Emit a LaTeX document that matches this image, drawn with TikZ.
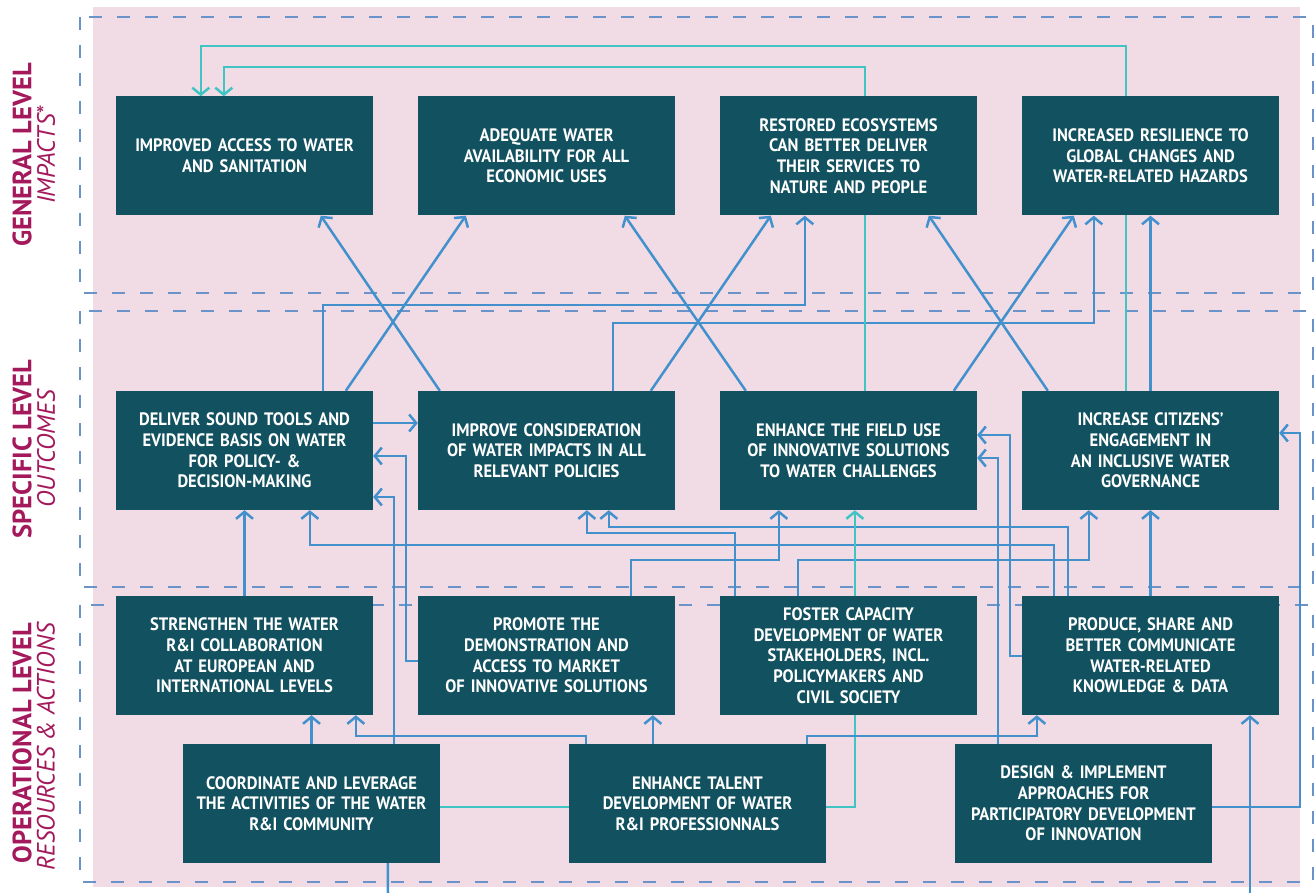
\documentclass[tikz,border=0pt]{standalone}
\usepackage{fontspec}
\setmainfont{PT Sans}
\newfontfamily\goalfont{PT Sans}[FakeStretch=0.92]
\usetikzlibrary{arrows.meta}

\definecolor{goalteal}{HTML}{12515F}
\definecolor{bgpink}{HTML}{F1DCE5}
\definecolor{linkblue}{HTML}{4391CC}
\definecolor{linkteal}{HTML}{40C4C4}
\definecolor{dashblue}{HTML}{6A93C9}
\definecolor{levelred}{HTML}{A3195B}

\pgfdeclarelayer{back}
\pgfdeclarelayer{links}
\pgfsetlayers{back,links,main}

\tikzset{
  goal/.style={fill=goalteal, text=white, minimum width=257pt, minimum height=119pt,
    inner sep=0pt, text width=255pt, align=center,
    font=\goalfont\bfseries\fontsize{18}{20.7}\selectfont},
  link/.style={draw=linkblue, line width=2.5pt, -{Straight Barb[length=7pt,width=17pt]}},
  tlink/.style={link, draw=linkteal},
  band/.style={draw=dashblue, line width=1.4pt, dash pattern=on 13pt off 15pt},
  levelname/.style={rotate=90, text=levelred, font=\bfseries\fontsize{26.5}{30}\selectfont},
  levelsub/.style={rotate=90, text=levelred, font=\itshape\fontsize{25}{28}\selectfont}
}

\begin{document}
\begin{tikzpicture}[x=1pt,y=-1pt]
\useasboundingbox (0,0) rectangle (1316,893);

\begin{pgfonlayer}{back}
\fill[bgpink] (93,7) rectangle (1300,887);
\draw[band] (80,17) rectangle (1313,293);
\draw[band] (80,311) rectangle (1313,587);
\draw[band] (80,605) rectangle (1313,882);
\end{pgfonlayer}

% level labels
\node[levelname] (genlv) at (22,155) {GENERAL LEVEL};
\node[levelsub] (gensub) at (46,155) {IMPACTS*};
\node[levelname] (speclv) at (22,449) {SPECIFIC LEVEL};
\node[levelsub] (specsub) at (46,449) {OUTCOMES};
\node[levelname] (oplv) at (22,743) {OPERATIONAL LEVEL};
\node[levelsub] (opsub) at (46,747) {RESOURCES \& ACTIONS};

% impacts
\node[goal] (b1) at (244.5,156) {IMPROVED ACCESS TO WATER\\AND SANITATION};
\node[goal] (b2) at (546.5,156) {ADEQUATE WATER\\AVAILABILITY FOR ALL\\ECONOMIC USES};
\node[goal] (b3) at (848.5,156) {RESTORED ECOSYSTEMS\\CAN BETTER DELIVER\\THEIR SERVICES TO\\NATURE AND PEOPLE};
\node[goal] (b4) at (1150.5,156) {INCREASED RESILIENCE TO\\GLOBAL CHANGES AND\\WATER-RELATED HAZARDS};

% outcomes
\node[goal] (m1) at (244.5,450.5) {DELIVER SOUND TOOLS AND\\EVIDENCE BASIS ON WATER\\FOR POLICY- \&\\DECISION-MAKING};
\node[goal] (m2) at (546.5,450.5) {IMPROVE CONSIDERATION\\OF WATER IMPACTS IN ALL\\RELEVANT POLICIES};
\node[goal] (m3) at (848.5,450.5) {ENHANCE THE FIELD USE\\OF INNOVATIVE SOLUTIONS\\TO WATER CHALLENGES};
\node[goal] (m4) at (1150.5,450.5) {INCREASE CITIZENS’\\ENGAGEMENT IN\\AN INCLUSIVE WATER\\GOVERNANCE};

% actions
\node[goal] (o1) at (244.5,655.5) {STRENGTHEN THE WATER\\R\&I COLLABORATION\\AT EUROPEAN AND\\INTERNATIONAL LEVELS};
\node[goal] (o2) at (546.5,655.5) {PROMOTE THE\\DEMONSTRATION AND\\ACCESS TO MARKET\\OF INNOVATIVE SOLUTIONS};
\node[goal] (o3) at (848.5,655.5) {FOSTER CAPACITY\\DEVELOPMENT OF WATER\\STAKEHOLDERS, INCL.\\POLICYMAKERS AND\\CIVIL SOCIETY};
\node[goal] (o4) at (1150.5,655.5) {PRODUCE, SHARE AND\\BETTER COMMUNICATE\\WATER-RELATED\\KNOWLEDGE \& DATA};

\node[goal] (p1) at (311.5,803.5) {COORDINATE AND LEVERAGE\\THE ACTIVITIES OF THE WATER\\R\&I COMMUNITY};
\node[goal] (p2) at (697.5,803.5) {ENHANCE TALENT\\DEVELOPMENT OF WATER\\R\&I PROFESSIONNALS};
\node[goal] (p3) at (1083.5,803.5) {DESIGN \& IMPLEMENT\\APPROACHES FOR\\PARTICIPATORY DEVELOPMENT\\OF INNOVATION};

\coordinate (outl) at (388,893);
\coordinate (outr) at (1250,893);

\begin{pgfonlayer}{links}
% outcomes to impacts
\draw[link] ([xshift=230pt]m1.north west) -- ([xshift=48pt]b2.south west);
\draw[link] ([xshift=22pt]m2.north west) -- ([xshift=205pt]b1.south west);
\draw[link] ([xshift=233pt]m2.north west) -- ([xshift=51pt]b3.south west);
\draw[link] ([xshift=26pt]m3.north west) -- ([xshift=207pt]b2.south west);
\draw[link] ([xshift=234pt]m3.north west) -- ([xshift=52pt]b4.south west);
\draw[link] ([xshift=26pt]m4.north west) -- ([xshift=209pt]b3.south west);
\draw[link] ([xshift=207pt]m1.north west) -- ++(0,-86) -| ([xshift=85pt]b3.south west);
\draw[link] ([xshift=195pt]m2.north west) -- ++(0,-68) -| ([xshift=72pt]b4.south west);
\draw[link] (m4.north) -- (b4.south);
\draw[tlink] ([xshift=104pt]m4.north west) -- ++(0,-345) -| ([xshift=85pt]b1.north west);
\draw[tlink] ([xshift=145pt]m3.north west) -- ++(0,-324) -| ([xshift=108pt]b1.north west);

% actions to outcomes
\draw[link] ([yshift=27.5pt]m1.east) -- ([yshift=27.5pt]m2.west);
\draw[link] ([yshift=-5.5pt]o2.west) -- ++(-12,0) |- ([yshift=-5.5pt]m1.east);
\draw[link] ([xshift=211pt]p1.north west) |- ([yshift=-46.5pt]m1.east);
\draw[link] (o1.north) -- (m1.south);
\draw[link] ([xshift=32pt]o4.north west) -- ++(0,-51) -| ([xshift=194pt]m1.south west);
\draw[link] ([xshift=46pt]o4.north west) -- ++(0,-69) -| ([xshift=191pt]m2.south west);
\draw[link] ([xshift=15pt]o3.north west) -- ++(0,-63) -| ([xshift=169pt]m2.south west);
\draw[link] ([xshift=213pt]o2.north west) -- ++(0,-36) -| ([xshift=59pt]m3.south west);
\draw[link] ([xshift=78pt]o3.north west) -- ++(0,-36) -| ([xshift=67pt]m4.south west);
\draw[tlink] ([yshift=-3.5pt]p1.east) -| ([xshift=135pt]m3.south west);
\draw[link] ([yshift=-0.5pt]o4.west) -- ++(-12,0) |- ([yshift=15.5pt]m3.east);
\draw[link] ([xshift=43pt]p3.north west) |- ([yshift=-7.5pt]m3.east);
\draw[link] ([yshift=-3.5pt]p3.east) -- ++(88,0) |- ([yshift=17.5pt]m4.east);
\draw[link] (o4.north) -- (m4.south);

% lower actions
\draw[link] (p1.north) -- (p1.north |- o1.south);
\draw[link] ([xshift=17pt]p2.north west) -- ++(0,-8) -| ([xshift=240pt]o1.south west);
\draw[link] ([xshift=84pt]p2.north west) -- ([xshift=235pt]o2.south west);
\draw[link] ([xshift=238pt]p2.north west) -- ++(0,-8) -| ([xshift=15pt]o4.south west);
\draw[link] (outr) -- (outr |- o4.south);
\draw[link,-] ([xshift=205pt]p1.south west) -- (outl);
\end{pgfonlayer}
\end{tikzpicture}
\end{document}
